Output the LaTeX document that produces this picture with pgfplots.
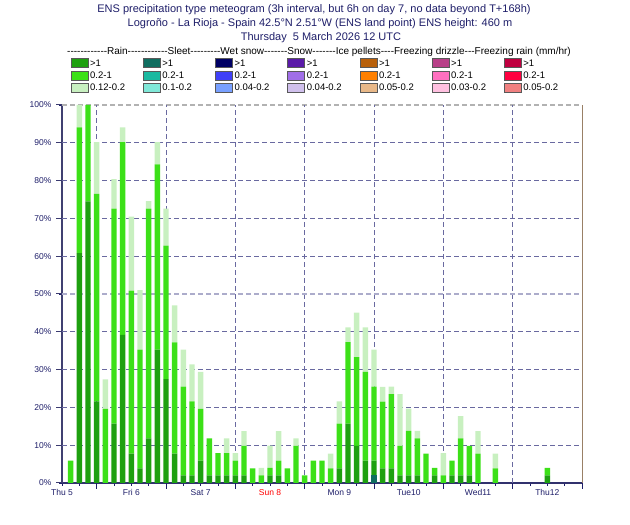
\documentclass[border=0pt]{standalone}
\usepackage{fontspec}
\setmainfont{Liberation Sans}[Ligatures=TeXOff]
\usepackage{pgfplots}
\pgfplotsset{compat=1.18}
\usepackage{pgfplotstable}

\definecolor{navy}{RGB}{30,30,105}
\definecolor{gridc}{RGB}{105,105,160}
\definecolor{rainA}{RGB}{30,160,16}
\definecolor{rainB}{RGB}{60,224,24}
\definecolor{rainC}{RGB}{200,240,192}
\definecolor{sleetA}{RGB}{16,110,96}
\definecolor{sleetB}{RGB}{26,185,160}
\definecolor{sleetC}{RGB}{128,232,216}
\definecolor{wsA}{RGB}{0,0,100}
\definecolor{wsB}{RGB}{64,64,248}
\definecolor{wsC}{RGB}{120,160,255}
\definecolor{snA}{RGB}{90,26,168}
\definecolor{snB}{RGB}{160,110,232}
\definecolor{snC}{RGB}{208,192,236}
\definecolor{ipA}{RGB}{184,96,10}
\definecolor{ipB}{RGB}{255,128,0}
\definecolor{ipC}{RGB}{232,184,136}
\definecolor{fdA}{RGB}{184,64,136}
\definecolor{fdB}{RGB}{255,112,192}
\definecolor{fdC}{RGB}{255,192,224}
\definecolor{frA}{RGB}{192,0,64}
\definecolor{frB}{RGB}{255,0,64}
\definecolor{frC}{RGB}{240,128,128}

% hours since Thu 5 12 UTC; increments in percent of members
\pgfplotstableread{
h sleet dark mid light
3 0 0 5.9 0
6 0 60.8 33.3 5.9
9 0 74.5 25.5 0
12 0 21.6 54.9 13.7
15 0 0 19.6 7.8
18 0 15.7 56.9 7.8
21 0 39.2 51.0 3.9
24 0 7.8 43.1 19.6
27 0 3.9 31.4 15.7
30 0 11.8 60.8 2.0
33 0 35.3 49.0 5.9
36 0 27.5 35.3 9.8
39 0 7.8 29.4 9.8
42 0 2.0 23.5 9.8
45 0 2.0 19.6 9.8
48 0 5.9 13.7 9.8
51 0 2.0 9.8 0
54 0 2.0 5.9 0
57 0 2.0 5.9 3.9
60 0 2.0 3.9 2.0
63 0 2.0 7.8 3.9
66 0 0 3.9 0
69 0 0 2.0 2.0
72 0 2.0 2.0 5.9
75 0 2.0 3.9 7.8
78 0 0 3.9 0
81 0 0 9.8 2.0
84 0 0 2.0 0
87 0 0 5.9 0
90 0 0 5.9 0
93 0 0 3.9 3.9
96 0 3.9 11.8 5.9
99 0 15.7 21.6 3.9
102 0 9.8 23.5 11.8
105 0 5.9 23.5 11.8
108 2.0 3.9 19.6 9.8
111 0 3.9 17.6 3.9
114 0 3.9 19.6 2.0
117 0 2.0 7.8 13.7
120 0 2.0 11.8 5.9
123 0 2.0 9.8 2.0
126 0 0 7.8 0
129 0 2.0 2.0 0
132 0 0 2.0 5.9
135 0 2.0 3.9 0
138 0 2.0 9.8 5.9
141 0 2.0 7.8 0
144 0 0 7.8 5.9
150 0 0 3.9 3.9
156 0 0 0 0
162 0 0 0 0
168 0 2.0 2.0 0
}\meteo

\begin{document}
\begin{tikzpicture}[x=1pt,y=1pt]
\path[use as bounding box] (0,0) rectangle (630,525);

% titles
\node[text=navy,font=\fontsize{11}{13}\selectfont] at (314,515) {ENS precipitation type meteogram (3h interval, but 6h on day 7, no data beyond T+168h)};
\node[text=navy,font=\fontsize{11}{13}\selectfont] at (320,501.5) {Logroño - La Rioja - Spain 42.5°N 2.51°W (ENS land point) ENS height: 460 m};
\node[text=navy,font=\fontsize{11}{13}\selectfont] at (321,487.5) {Thursday\ \ 5 March 2026 12 UTC};
\node[text=black,font=\fontsize{10}{12}\selectfont,anchor=west,inner sep=0pt] at (67,473) {------------Rain------------Sleet---------Wet snow-------Snow-------Ice pellets----Freezing drizzle---Freezing rain (mm/hr)};

% legend
\def\legcol#1#2#3#4#5#6#7{%
  \draw[draw=gray!70!black,fill=#2] (#1,457.5) rectangle ++(17,9);
  \node[anchor=west,inner sep=0pt,font=\fontsize{9.5}{11}\selectfont] at (#1+19,462) {>1};
  \draw[draw=gray!70!black,fill=#3] (#1,445) rectangle ++(17,9);
  \node[anchor=west,inner sep=0pt,font=\fontsize{9.5}{11}\selectfont] at (#1+19,449.5) {#6};
  \draw[draw=gray!70!black,fill=#4] (#1,433) rectangle ++(17,9);
  \node[anchor=west,inner sep=0pt,font=\fontsize{9.5}{11}\selectfont] at (#1+19,437.5) {#7};
}
\legcol{71}{rainA}{rainB}{rainC}{}{0.2-1}{0.12-0.2}
\legcol{143.2}{sleetA}{sleetB}{sleetC}{}{0.2-1}{0.1-0.2}
\legcol{215.4}{wsA}{wsB}{wsC}{}{0.2-1}{0.04-0.2}
\legcol{287.6}{snA}{snB}{snC}{}{0.2-1}{0.04-0.2}
\legcol{359.8}{ipA}{ipB}{ipC}{}{0.2-1}{0.05-0.2}
\legcol{432}{fdA}{fdB}{fdC}{}{0.2-1}{0.03-0.2}
\legcol{504.2}{frA}{frB}{frC}{}{0.2-1}{0.05-0.2}

\begin{axis}[
  at={(62pt,42pt)}, anchor=south west,
  scale only axis, width=520pt, height=378pt,
  xmin=0, xmax=180, ymin=0, ymax=100,
  ybar stacked, bar width=5.4pt,
  axis line style={draw=none},
  tick align=outside,
  tick style={navy, line width=0.8pt},
  ytick={0,10,...,100},
  yticklabels={0\%,10\%,20\%,30\%,40\%,50\%,60\%,70\%,80\%,90\%,100\%},
  yticklabel style={font=\fontsize{8.5}{10}\selectfont, text=navy, xshift=-4pt},
  ytick pos=left, xtick pos=bottom,
  xtick={0,24,...,168},
  xticklabels={Thu 5,Fri 6,Sat 7,\textcolor{red}{Sun 8},Mon 9,Tue10,Wed11,Thu12},
  xticklabel style={font=\fontsize{8.5}{10}\selectfont, text=navy},
  major tick length=3pt,
  minor xtick={6,18,...,174},
  minor tick length=3pt,
  clip=false,
]
\addplot+[fill=sleetA, draw=none] table[x=h,y=sleet] {\meteo};
\addplot+[fill=rainA, draw=none] table[x=h,y=dark] {\meteo};
\addplot+[fill=rainB, draw=none] table[x=h,y=mid] {\meteo};
\addplot+[fill=rainC, draw=none] table[x=h,y=light] {\meteo};

\pgfplotsinvokeforeach{10,20,30,40,60,70,80,90}{
  \draw[gridc, dash pattern=on 5pt off 3pt, line width=0.8pt] (axis cs:0,#1) -- (axis cs:180,#1);
}
\draw[gridc!55, dash pattern=on 5pt off 3pt, line width=1.2pt] (axis cs:0,50) -- (axis cs:180,50);
\pgfplotsinvokeforeach{12,36,60,84,108,132,156}{
  \draw[gridc, dash pattern=on 5pt off 3pt, line width=0.8pt] (axis cs:#1,0) -- (axis cs:#1,100);
}
\pgfplotsinvokeforeach{12,36,60,84,108,132,156,180}{
  \draw[navy, line width=1pt] (axis cs:#1,0) -- ++(0,-6pt);
}
\pgfplotsinvokeforeach{0,10,20,30,40,50,60,70,80,90,100}{
  \draw[navy!70!gray, line width=1pt] (axis cs:0,#1) -- ++(-6pt,0);
}
\draw[gray!60, dash pattern=on 5pt off 3pt, line width=1.3pt] (rel axis cs:0,1) -- (rel axis cs:1,1);
\draw[brown!40!gray, line width=1pt] (rel axis cs:1,0) -- (rel axis cs:1,1);
\draw[navy!65!gray, line width=1.5pt] (rel axis cs:0,0) -- (rel axis cs:0,1);
\draw[navy!80!gray, line width=1.5pt] (rel axis cs:0,0) -- (rel axis cs:1,0);
\end{axis}
\end{tikzpicture}
\end{document}
